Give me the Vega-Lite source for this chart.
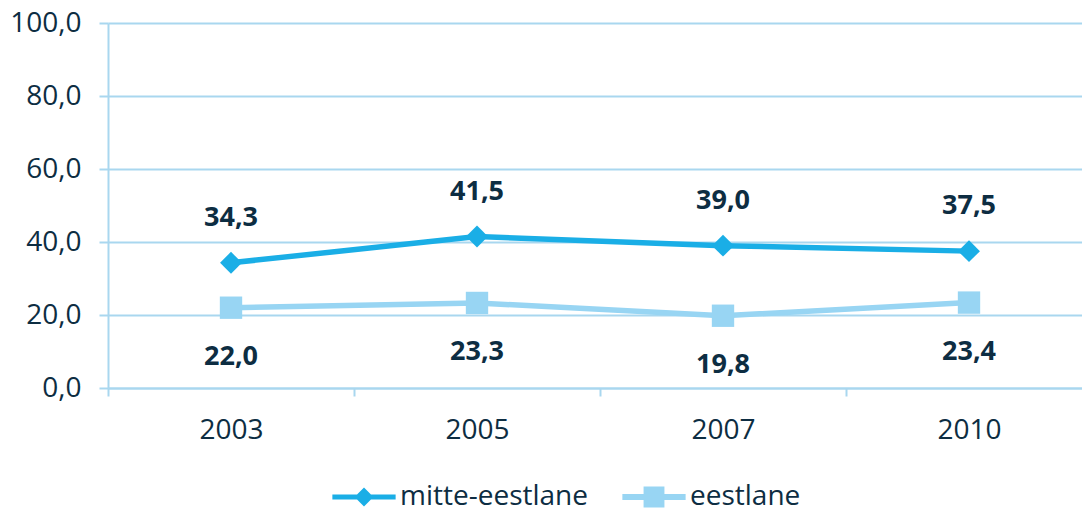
{
  "$schema": "https://vega.github.io/schema/vega-lite/v6.json",
  "width": 984,
  "height": 365,
  "autosize": "none",
  "padding": {"left": 108, "top": 23, "right": 0, "bottom": 124},
  "config": {
    "view": {"stroke": null},
    "font": "Open Sans",
    "locale": {"number": {"decimal": ",", "thousands": ".", "grouping": [3], "currency": ["", " €"]}}
  },
  "data": {
    "values": [
      {"year": "2003", "series": "mitte-eestlane", "value": 34.3},
      {"year": "2005", "series": "mitte-eestlane", "value": 41.5},
      {"year": "2007", "series": "mitte-eestlane", "value": 39.0},
      {"year": "2010", "series": "mitte-eestlane", "value": 37.5},
      {"year": "2003", "series": "eestlane", "value": 22.0},
      {"year": "2005", "series": "eestlane", "value": 23.3},
      {"year": "2007", "series": "eestlane", "value": 19.8},
      {"year": "2010", "series": "eestlane", "value": 23.4}
    ]
  },
  "encoding": {
    "x": {
      "field": "year", "type": "ordinal", "bandPosition": 0.5,
      "scale": {"type": "band", "paddingInner": 0, "paddingOuter": 0},
      "axis": {
        "title": null, "labelAngle": 0, "tickBand": "extent", "grid": false,
        "domainColor": "#a9d7ef", "domainWidth": 2, "tickColor": "#a9d7ef", "tickWidth": 2, "tickSize": 8,
        "labelFont": "Open Sans", "labelFontSize": 28, "labelColor": "#0d2d42", "labelPadding": 20
      }
    },
    "y": {
      "field": "value", "type": "quantitative",
      "scale": {"domain": [0, 100], "nice": false},
      "axis": {
        "title": null, "values": [0, 20, 40, 60, 80, 100], "format": ".1f",
        "grid": true, "gridColor": "#a9d7ef", "gridWidth": 2,
        "domainColor": "#a9d7ef", "domainWidth": 2, "tickColor": "#a9d7ef", "tickWidth": 2, "tickSize": 9,
        "labelFont": "Open Sans", "labelFontSize": 28, "labelColor": "#0d2d42", "labelPadding": 18
      }
    }
  },
  "layer": [
    {
      "mark": {"type": "line", "strokeWidth": 5.5},
      "encoding": {
        "color": {
          "field": "series", "type": "nominal",
          "scale": {"domain": ["mitte-eestlane", "eestlane"], "range": ["#1aaee6", "#98d5f3"]},
          "legend": {
            "title": null, "orient": "none", "legendX": 224, "legendY": 442, "direction": "horizontal",
            "symbolSize": 4000, "labelFont": "Open Sans", "labelFontSize": 28, "labelColor": "#0d2d42",
            "labelOffset": 4, "columnPadding": 34, "labelLimit": 400,
            "encode": {
              "symbols": {
                "update": {
                  "shape": {"signal": "datum.value === 'mitte-eestlane' ? 'M-1,-0.08L-0.22,-0.08L0,-0.3L0.22,-0.08L1,-0.08L1,0.08L0.22,0.08L0,0.3L-0.22,0.08L-1,0.08Z' : 'M-1,-0.095L-0.33,-0.095L-0.33,-0.33L0.33,-0.33L0.33,-0.095L1,-0.095L1,0.095L0.33,0.095L0.33,0.33L-0.33,0.33L-0.33,0.095L-1,0.095Z'"},
                  "fill": {"signal": "datum.value === 'mitte-eestlane' ? '#1aaee6' : '#98d5f3'"},
                  "stroke": {"value": "transparent"},
                  "strokeWidth": {"value": 0},
                  "opacity": {"value": 1},
                  "fillOpacity": {"value": 1}
                }
              }
            }
          }
        }
      }
    },
    {
      "transform": [{"filter": "datum.series === 'mitte-eestlane'"}],
      "mark": {"type": "point", "shape": "diamond", "filled": true, "size": 480, "color": "#1aaee6", "opacity": 1}
    },
    {
      "transform": [{"filter": "datum.series === 'eestlane'"}],
      "mark": {"type": "point", "shape": "square", "filled": true, "size": 500, "color": "#98d5f3", "opacity": 1}
    },
    {
      "transform": [{"filter": "datum.series === 'mitte-eestlane'"}],
      "mark": {"type": "text", "dy": -45, "font": "Open Sans", "fontSize": 27, "fontWeight": "bold", "color": "#0d2d42"},
      "encoding": {"text": {"field": "value", "type": "quantitative", "format": ".1f"}}
    },
    {
      "transform": [{"filter": "datum.series === 'eestlane'"}],
      "mark": {"type": "text", "dy": 49, "font": "Open Sans", "fontSize": 27, "fontWeight": "bold", "color": "#0d2d42"},
      "encoding": {"text": {"field": "value", "type": "quantitative", "format": ".1f"}}
    }
  ]
}
